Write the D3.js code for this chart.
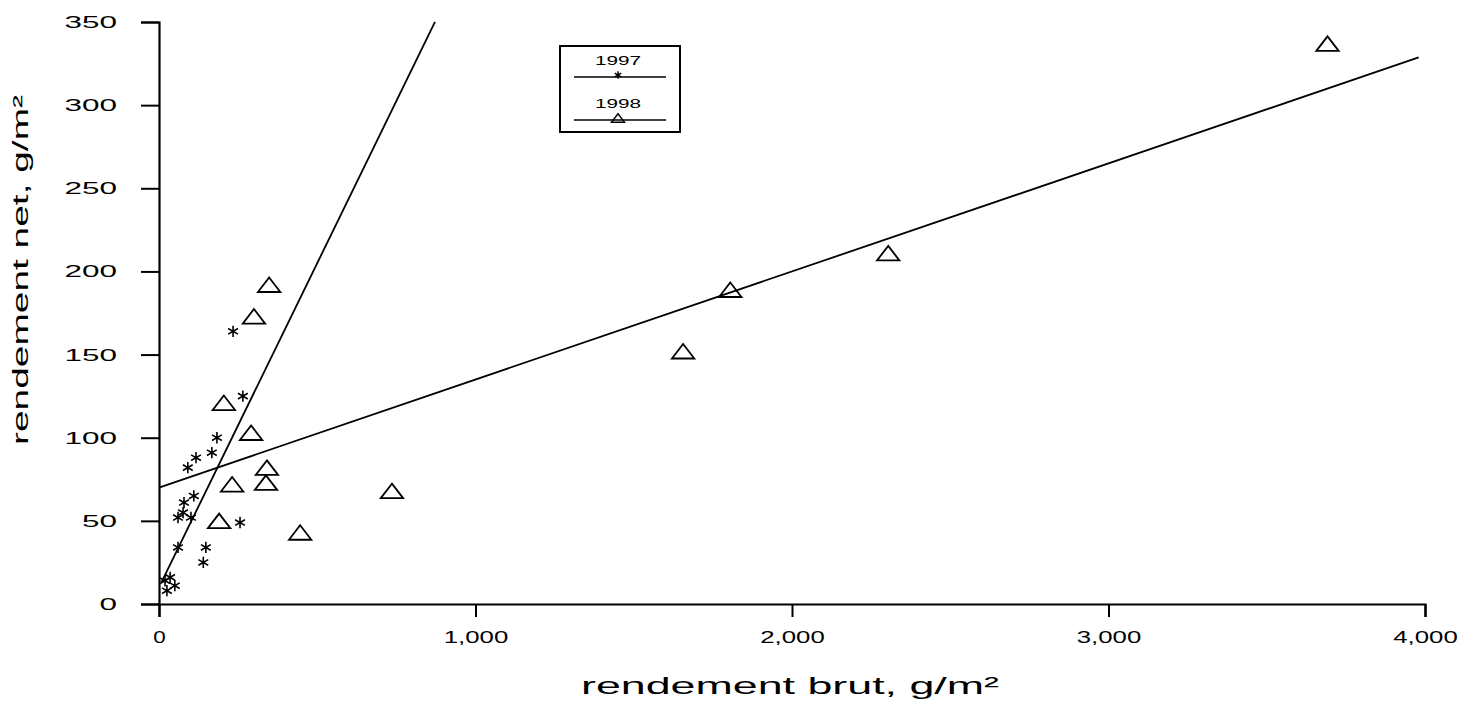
<!DOCTYPE html>
<html>
<head>
<meta charset="utf-8">
<script src="https://cdn.jsdelivr.net/npm/d3@7"></script>
<style>
  body { margin: 0; background: #fff; }
  text { font-family: "Liberation Sans", Arial, sans-serif; fill: #000; }
</style>
</head>
<body>
<svg id="chart" width="1482" height="702"></svg>
<script>
// values
const years = ["1997", "1998"];

const brut1997 = [19, 25, 35, 50, 60, 60, 76, 79, 91, 101, 110, 117, 140, 148, 167, 183, 234, 256, 265];
const net1997  = [14, 8, 16, 11, 34, 52, 55, 61, 82, 52, 65, 88, 25, 34, 91, 100, 164, 49, 125];

const brut1998 = [3692, 2304, 1805, 1656, 736, 446, 348, 300, 205, 291, 341, 338, 231, 190];
const net1998  = [337, 211, 189, 152, 68, 43, 192, 173, 121, 103, 82, 73, 72, 50];

// regression lines: net = intercept + slope * brut
const fitIntercept = [10, 70];
const fitSlope = [0.39, 0.065];
const fitFrom = [8, 0];
const fitTo = [872, 3980];

const xTickValues = [0, 1000, 2000, 3000, 4000];
const yTickValues = [0, 50, 100, 150, 200, 250, 300, 350];

const xTitle = "rendement brut, g/m²";
const yTitle = "rendement net, g/m²";

const svg = d3.select("svg#chart");

const x = d3.scaleLinear().domain([0, 4000]).range([159, 1425]);
const y = d3.scaleLinear().domain([0, 350]).range([604, 22]);

//#region axes
const xAxis = d3.axisBottom(x)
    .tickValues(xTickValues)
    .tickFormat(d3.format(","))
    .tickSize(13)
    .tickPadding(14);

const yAxis = d3.axisLeft(y)
    .tickValues(yTickValues)
    .tickSize(18)
    .tickPadding(24);

const gx = svg.append("g")
    .attr("transform", "translate(0," + y(0) + ")")
    .call(xAxis);

const gy = svg.append("g")
    .attr("transform", "translate(" + x(0) + ",0)")
    .call(yAxis);

[gx, gy].forEach(g => {
    g.selectAll("path.domain").attr("stroke", "#000").attr("stroke-width", 2.2);
    g.selectAll(".tick line").attr("stroke", "#000").attr("stroke-width", 2);
});

// the scan has wide, stretched digits
gx.selectAll(".tick text")
    .attr("font-size", 17)
    .attr("font-family", "Liberation Sans, Arial, sans-serif")
    .attr("fill", "#000")
    .attr("textLength", d => d3.format(",")(d).length * 12.5 + (d ? 2 : 0))
    .attr("lengthAdjust", "spacingAndGlyphs");

gy.selectAll(".tick text")
    .attr("font-size", 17)
    .attr("font-family", "Liberation Sans, Arial, sans-serif")
    .attr("fill", "#000")
    .attr("textLength", d => String(d).length * 17.5)
    .attr("lengthAdjust", "spacingAndGlyphs");
//#endregion

//#region titles
svg.append("text")
    .attr("x", 790)
    .attr("y", 694)
    .attr("text-anchor", "middle")
    .attr("font-size", 24)
    .attr("textLength", 418)
    .attr("lengthAdjust", "spacingAndGlyphs")
    .text(xTitle);

svg.append("text")
    .attr("transform", "translate(28,270) rotate(-90)")
    .attr("text-anchor", "middle")
    .attr("font-size", 22)
    .attr("textLength", 350)
    .attr("lengthAdjust", "spacingAndGlyphs")
    .text(yTitle);
//#endregion

//#region regression lines
const fits = years.map((yr, i) => ({
    year: yr,
    pts: [fitFrom[i], fitTo[i]].map(b => [b, fitIntercept[i] + fitSlope[i] * b])
}));

svg.selectAll("path.fit")
    .data(fits)
    .join("path")
    .attr("class", "fit")
    .attr("d", d => d3.line().x(p => x(p[0])).y(p => y(p[1]))(d.pts))
    .attr("fill", "none")
    .attr("stroke", "#000")
    .attr("stroke-width", 1.8);
//#endregion

//#region points
const pts1997 = brut1997.map((b, i) => ({b: b, n: net1997[i]}));
const pts1998 = brut1998.map((b, i) => ({b: b, n: net1998[i]}));

// flat open triangle like the scanned markers
const flatTriangle = {
    draw(context, size) {
        const w = Math.sqrt(size) * 1.25, h = w * 0.65;
        context.moveTo(0, -h / 2);
        context.lineTo(w / 2, h / 2);
        context.lineTo(-w / 2, h / 2);
        context.closePath();
    }
};

const star = d3.symbol(d3.symbolAsterisk, 90);
const tri = d3.symbol(flatTriangle, 320);

svg.selectAll("path.p1997")
    .data(pts1997)
    .join("path")
    .attr("class", "p1997")
    .attr("d", star)
    .attr("transform", d => "translate(" + x(d.b) + "," + y(d.n) + ")")
    .attr("fill", "none")
    .attr("stroke", "#000")
    .attr("stroke-width", 1.6);

svg.selectAll("path.p1998")
    .data(pts1998)
    .join("path")
    .attr("class", "p1998")
    .attr("d", tri)
    .attr("transform", d => "translate(" + x(d.b) + "," + y(d.n) + ")")
    .attr("fill", "none")
    .attr("stroke", "#000")
    .attr("stroke-width", 1.8);
//#endregion

//#region legend
const legend = svg.append("g");

legend.append("rect")
    .attr("x", 560).attr("y", 46)
    .attr("width", 120).attr("height", 86)
    .attr("fill", "none")
    .attr("stroke", "#000")
    .attr("stroke-width", 2);

const legendSymbols = [d3.symbol(d3.symbolAsterisk, 40), d3.symbol(flatTriangle, 110)];

years.forEach((yr, i) => {
    const top = 65 + i * 43;
    legend.append("text")
        .attr("x", 618).attr("y", top)
        .attr("text-anchor", "middle")
        .attr("font-size", 13)
        .attr("textLength", 46)
        .attr("lengthAdjust", "spacingAndGlyphs")
        .text(yr);
    legend.append("line")
        .attr("x1", 574).attr("x2", 666)
        .attr("y1", top + 12).attr("y2", top + 12)
        .attr("stroke", "#000")
        .attr("stroke-width", 1.5);
    legend.append("path")
        .attr("d", legendSymbols[i])
        .attr("transform", "translate(618," + (top + 10) + ")")
        .attr("fill", "none")
        .attr("stroke", "#000")
        .attr("stroke-width", 1.4);
});
//#endregion
</script>
</body>
</html>
